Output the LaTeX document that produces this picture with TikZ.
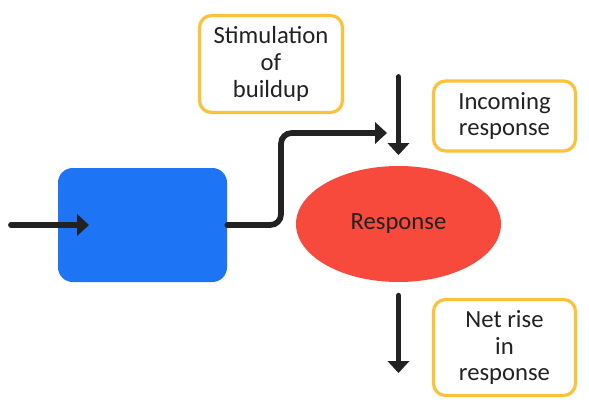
\documentclass[tikz,border=0pt]{standalone}
\usepackage{fontspec}
\setmainfont{Carlito}
\usetikzlibrary{shapes.geometric,arrows.meta}
\definecolor{boxblue}{HTML}{1D74F5}
\definecolor{respred}{HTML}{F74A3C}
\definecolor{labelgold}{HTML}{FDC23A}
\definecolor{inkdark}{HTML}{222222}
\begin{document}
\begin{tikzpicture}[x=0.75pt, y=-0.75pt, >={Triangle[width=16pt, length=9pt]}]
    \useasboundingbox (0,0) rectangle (589,410);

    \tikzstyle{lnode} = [draw=labelgold, line width=2.4pt, rectangle, rounded corners = 9pt, align=center, text=inkdark, inner sep = 2pt, font=\fontsize{18.5}{20}\selectfont]
    \tikzstyle{link} = [draw=inkdark, line width=4.3pt, line cap=round]

    \node[fill=boxblue, rectangle, rounded corners = 11pt, minimum width = 126.75pt, minimum height = 85.5pt] (blk) at (142.5,225) {};
    \node[fill=respred, ellipse, minimum width = 153.75pt, minimum height = 87pt, text=inkdark, font=\fontsize{18.5}{20}\selectfont] (resp) at (398.5,224) {Response};

    \node[lnode, minimum width = 107.25pt, minimum height = 72.75pt] (stim) at (271,64) {Stimulation\\of\\buildup};
    \node[lnode, minimum width = 106.5pt, minimum height = 52.5pt] (inc) at (504.5,116) {Incoming\\response};
    \node[lnode, minimum width = 106.5pt, minimum height = 72pt] (net) at (504.5,347.5) {Net rise\\in\\response};

    \coordinate (src) at (11,225);
    \coordinate (srcTip) at (89,225);
    \coordinate (bend) at (281,133);
    \coordinate (mergeTip) at (387,133);
    \coordinate (topIn) at (398.5,77);
    \coordinate (outTip) at (398.5,373);

    % arrows in
    \draw[link, ->] (src) -- (srcTip);
    \draw[link, ->, rounded corners = 8pt] (blk.east) -| (bend) -- (mergeTip);
    \draw[link, ->, shorten >= 8pt] (topIn) -- (resp.north);

    % arrow out
    \draw[link, ->, shorten <= 10pt] (resp.south) -- (outTip);
\end{tikzpicture}
\end{document}
